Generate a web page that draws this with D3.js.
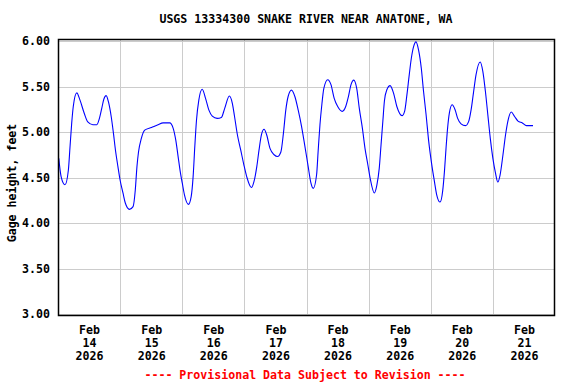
<!DOCTYPE html>
<html>
<head>
<meta charset="utf-8">
<script src="https://cdn.jsdelivr.net/npm/d3@7"></script>
<style>
  html, body { margin: 0; padding: 0; background: #fff; }
  svg { display: block; }
  text { font-family: "DejaVu Sans Mono", "Liberation Mono", monospace; font-weight: bold; font-size: 11.6px; fill: #000; }
</style>
</head>
<body>
<svg id="chart" width="576" height="384"></svg>
<script>
const title = "USGS 13334300 SNAKE RIVER NEAR ANATONE, WA";
const yLabel = "Gage height, feet";
const footer = "---- Provisional Data Subject to Revision ----";
const startDate = "2026-02-14T00:00:00Z";
const endDate = "2026-02-22T00:00:00Z";
const dayLabels = ["Feb 14 2026", "Feb 15 2026", "Feb 16 2026", "Feb 17 2026", "Feb 18 2026", "Feb 19 2026", "Feb 20 2026", "Feb 21 2026"];
const yTicks = [3.0, 3.5, 4.0, 4.5, 5.0, 5.5, 6.0];

// hours since Feb 14 00:00 and gage height (feet)
const hoursFromStart = [
  0.3, 1.2, 2.7, 4.0, 4.65, 5.3, 5.9, 7.25, 8.5, 10.2, 11.5, 13.45, 15.0, 16.0, 16.9, 17.7, 18.6, 19.5, 20.55, 21.4, 22.2, 23.15,
  24.0, 25.1, 26.0, 27.6, 29.0, 29.85, 30.5, 31.1, 32.2, 33.5, 36.1, 38.65, 40.6, 43.15, 44.5, 45.5, 46.4, 47.3,
  48.0, 48.85, 50.4, 51.45, 52.2, 52.85, 53.5, 54.4, 55.7, 57.0, 58.3, 59.6, 61.5, 63.1, 64.4, 66.2, 67.35, 68.2, 69.3, 70.6, 71.8,
  72.9, 74.7, 75.7, 76.8, 77.65, 78.6, 79.6, 80.6, 81.9, 83.5, 84.8, 86.1, 87.1, 88.0, 88.9, 90.2, 91.5, 92.8, 94.1, 95.4,
  96.65, 97.7, 98.6, 99.9, 100.5, 101.2, 101.85, 102.7, 104.2, 105.45, 106.7, 108.05, 109.8, 111.15, 112.2, 113.2, 114.25, 115.4, 116.4, 117.6, 118.6, 119.7,
  120.6, 122.2, 123.2, 124.1, 124.8, 125.5, 126.1, 127.05, 128.3, 129.6, 130.9, 132.9, 133.9, 134.8, 135.7, 136.5, 137.4, 138.3, 139.3, 140.35, 141.2, 142.2, 143.2,
  144.5, 145.4, 146.3, 147.6, 148.6, 149.3, 149.9, 150.5, 151.2, 152.25, 153.4, 154.4, 155.7, 157.4, 158.7, 159.6, 160.5, 161.5, 163.1, 164.1, 165.1, 166.05, 167.0,
  168.0, 169.0, 169.9, 170.8, 171.9, 172.9, 173.8, 175.1, 176.4, 177.7, 179.4, 180.95, 183.5
];
const gageHeight = [
  4.71, 4.51, 4.42, 4.58, 4.84, 5.10, 5.28, 5.43, 5.35, 5.20, 5.11, 5.08, 5.08, 5.15, 5.26, 5.36, 5.40, 5.33, 5.17, 4.99, 4.80, 4.62,
  4.47, 4.33, 4.22, 4.15, 4.18, 4.36, 4.62, 4.78, 4.93, 5.02, 5.05, 5.08, 5.10, 5.10, 5.04, 4.91, 4.73, 4.55,
  4.44, 4.31, 4.205, 4.29, 4.51, 4.84, 5.13, 5.35, 5.47, 5.37, 5.24, 5.175, 5.15, 5.16, 5.26, 5.395, 5.315, 5.17, 4.97, 4.80, 4.64,
  4.51, 4.39, 4.455, 4.62, 4.80, 4.97, 5.03, 4.97, 4.82, 4.75, 4.73, 4.78, 4.99, 5.24, 5.39, 5.46, 5.39, 5.24, 5.06, 4.84,
  4.62, 4.44, 4.38, 4.53, 4.79, 5.08, 5.28, 5.48, 5.575, 5.52, 5.37, 5.28, 5.227, 5.28, 5.39, 5.52, 5.57, 5.48, 5.26, 5.04, 4.82, 4.64,
  4.49, 4.33, 4.42, 4.60, 4.86, 5.12, 5.34, 5.465, 5.51, 5.43, 5.28, 5.18, 5.227, 5.41, 5.63, 5.81, 5.94, 5.99, 5.90, 5.70, 5.45, 5.19, 4.90,
  4.62, 4.46, 4.31, 4.23, 4.35, 4.57, 4.82, 5.04, 5.21, 5.30, 5.245, 5.15, 5.09, 5.07, 5.12, 5.245, 5.43, 5.63, 5.77, 5.67, 5.45, 5.19, 4.93,
  4.71, 4.55, 4.45, 4.53, 4.75, 4.97, 5.12, 5.22, 5.17, 5.12, 5.10, 5.07, 5.07
];

const svg = d3.select("#chart");
const margin = { left: 58, top: 40, right: 555, bottom: 315 };
const t0 = new Date(startDate);
const x = d3.scaleUtc().domain([t0, new Date(endDate)]).range([margin.left, margin.right]);
const y = d3.scaleLinear().domain([3, 6]).range([margin.bottom - 1, margin.top + 1]);

const data = hoursFromStart.map((h, i) => ({ t: new Date(t0.getTime() + h * 3600e3), v: gageHeight[i] }));

// horizontal grid
svg.append("g")
  .attr("transform", `translate(${margin.left},0)`)
  .call(d3.axisLeft(y).tickValues(yTicks).tickSize(-(margin.right - margin.left)).tickFormat(""))
  .call(g => g.select(".domain").remove())
  .call(g => g.selectAll("line").attr("stroke", "#cccccc").attr("shape-rendering", "crispEdges"));

// vertical grid at midnights
const midnights = d3.utcDay.range(d3.utcDay.offset(t0, 1), new Date(endDate));
svg.append("g")
  .attr("transform", `translate(0,${margin.bottom})`)
  .call(d3.axisBottom(x).tickValues(midnights).tickSize(-(margin.bottom - margin.top)).tickFormat(""))
  .call(g => g.select(".domain").remove())
  .call(g => g.selectAll("line").attr("stroke", "#cccccc").attr("shape-rendering", "crispEdges"));

// line
svg.append("path")
  .datum(data)
  .attr("fill", "none")
  .attr("stroke", "#0000ff")
  .attr("stroke-width", 1.1)
  .attr("d", d3.line().x(d => x(d.t)).y(d => y(d.v)).curve(d3.curveMonotoneX));

// frame
svg.append("rect")
  .attr("x", margin.left + 0.5).attr("y", margin.top - 0.5)
  .attr("width", margin.right - margin.left - 1).attr("height", margin.bottom - margin.top + 1)
  .attr("fill", "none").attr("stroke", "#000").attr("stroke-width", 1.5);

// y tick labels
svg.append("g")
  .attr("transform", `translate(${margin.left},0)`)
  .call(d3.axisLeft(y).tickValues(yTicks).tickSize(0).tickPadding(8).tickFormat(d3.format(".2f")))
  .call(g => g.select(".domain").remove())
  .call(g => g.selectAll("text").attr("font-size", null).attr("font-family", null));

// x labels at noon
const noons = d3.utcDay.range(t0, new Date(endDate)).map(d => d3.utcHour.offset(d, 12));
const xAxis = svg.append("g")
  .attr("transform", `translate(0,${margin.bottom})`)
  .call(d3.axisBottom(x).tickValues(noons).tickSize(0).tickFormat(""))
  .call(g => g.select(".domain").remove());
xAxis.selectAll(".tick").each(function(d, i) {
  const parts = dayLabels[i].split(" ");
  const t = d3.select(this).append("text").attr("text-anchor", "middle").attr("fill", "#000");
  parts.forEach((p, j) => t.append("tspan").attr("x", 0).attr("y", 19 + j * 12.8).text(p));
});

// title
svg.append("text").attr("x", 306).attr("y", 23).attr("text-anchor", "middle").text(title);

// y label
svg.append("text")
  .attr("transform", `translate(16,${183}) rotate(-90)`)
  .attr("text-anchor", "middle").text(yLabel);

// footer
svg.append("text").attr("x", 305).attr("y", 379).attr("text-anchor", "middle")
  .style("fill", "#ff0000").text(footer);
</script>
</body>
</html>
